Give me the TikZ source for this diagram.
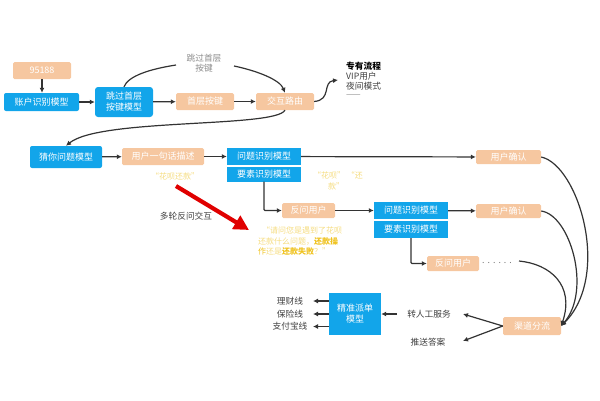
\documentclass[tikz,border=0pt]{standalone}
\usepackage{fontspec}
\setmainfont{Noto Sans CJK SC}
\usetikzlibrary{arrows.meta}
\definecolor{bluebox}{HTML}{12A5EA}
\definecolor{orangebox}{HTML}{F6C7A0}
\definecolor{conn}{HTML}{333333}
\definecolor{yel}{HTML}{F5DC80}
\definecolor{gold}{HTML}{EFC21E}
\tikzset{
  box/.style={minimum width=#1,inner sep=0pt,text=white,font=\fontsize{9}{11}\selectfont,align=center},
  bluen/.style={box=#1,fill=bluebox},
  oran/.style={box=#1,fill=orangebox,rounded corners=1.5pt},
  conl/.style={draw=conn,line width=1.2pt},
  conr/.style={conl,-{Latex[length=5pt,width=5pt]}},
  lbl/.style={inner sep=0pt,text=black!75,font=\fontsize{8.7}{10}\selectfont,align=center},
  yl/.style={inner sep=0pt,text=yel,font=\fontsize{8}{10.5}\selectfont,align=left}
}
\begin{document}
\begin{tikzpicture}[x=1pt,y=-1pt]
\useasboundingbox (0,0) rectangle (600,400);
% top row
\node[oran=58pt,minimum height=17pt] (n95) at (42,70.5) {95188};
\node[bluen=75pt,minimum height=18pt,rounded corners=2pt] (acc) at (41.5,102) {账户识别模型};
\node[bluen=58pt,minimum height=30pt,rounded corners=3pt] (skip) at (124,102) {跳过首层\\按键模型};
\node[oran=58pt,minimum height=17pt] (first) at (205,101.5) {首层按键};
\node[oran=58pt,minimum height=17pt] (route) at (285,101.5) {交互路由};
\node[lbl,text=black!45] (skiptxt) at (204,63) {跳过首层\\按键};
\node[inner sep=0pt,font=\fontsize{8.7}{10}\selectfont\bfseries,anchor=west] (prop) at (346,66) {专有流程};
\node[lbl,anchor=west] (vip) at (346,76) {VIP用户};
\node[lbl,anchor=west] (night) at (346,86) {夜间模式};
\node[lbl,anchor=west,text=black!45] (dash) at (346,96) {——};
\coordinate (pin) at (338,80);
\coordinate (t1) at (176,65);
\coordinate (t2) at (234,66);
\draw[conr] (n95) -- (n95 |- acc.north);
\draw[conr] (acc) -- (skip);
\draw[conr] (skip) -- (first);
\draw[conr] (first) -- (route);
\draw[conl] (skip.north) .. controls (128,76) and (150,69) .. (t1);
\draw[conr] (t2) .. controls (258,71) and (280,80) .. (route.north);
\draw[conr] (route.east) .. controls (332,100) and (322,82) .. (pin);
% second row
\node[bluen=72pt,minimum height=22pt,rounded corners=2pt] (guess) at (66,157) {猜你问题模型};
\node[oran=82pt,minimum height=17pt] (say) at (163,156.5) {用户一句话描述};
\node[bluen=74pt,minimum height=17pt] (q1) at (264,156.5) {问题识别模型};
\node[bluen=74pt,minimum height=15pt] (e1) at (264,174) {要素识别模型};
\node[oran=65pt,minimum height=14pt] (conf1) at (508.5,157) {用户确认};
\node[yl] (huabei) at (175,176) {“花呗还款”};
\node[yl,anchor=north west] (hb2) at (313,172) {“花呗” “还\\\hspace*{15pt}款”};
\draw[conr] (route.south) .. controls (275,128) and (100,118) .. (guess.north);
\draw[conr] (guess) -- (say);
\draw[conr] (say) -- (q1);
\draw[conr] (q1) -- (conf1);
% third row
\node[oran=53pt,minimum height=15pt] (ask1) at (308.5,210.5) {反问用户};
\node[bluen=74pt,minimum height=17pt] (q2) at (411,210.5) {问题识别模型};
\node[bluen=74pt,minimum height=17pt] (e2) at (411,229.5) {要素识别模型};
\node[oran=65pt,minimum height=14pt] (conf2) at (508.5,211) {用户确认};
\node[oran=52pt,minimum height=15pt] (ask2) at (453,263.5) {反问用户};
\node[lbl,text=black!55] (dots) at (497,263) {.\hspace{3pt}.\hspace{3pt}.\hspace{3pt}.\hspace{3pt}.\hspace{3pt}.};
\draw[conr,rounded corners=1pt] (e1.south) -- (e1.south |- ask1) -- (ask1);
\draw[conr] (ask1) -- (q2);
\draw[conr] (q2) -- (conf2);
\draw[conr,rounded corners=1pt] (e2.south) -- (e2.south |- ask2) -- (ask2);
% red arrow and texts
\coordinate (ra) at (176,186);
\coordinate (rb) at (249,230);
\draw[draw=red!88!black,line width=4.2pt,-{Triangle[length=15pt,width=15pt]}] (ra) -- (rb);
\node[lbl] (multi) at (186,216) {多轮反问交互};
\node[yl,anchor=north west] (ques) at (258,227) {\hspace*{4pt}“请问您是遇到了花呗\\还款什么问题，\textcolor{gold}{\bfseries 还款操}\\\textcolor{gold}{作}还是\textcolor{gold}{\bfseries 还款失败}？”};
% bottom
\node[oran=58pt,minimum height=18pt] (chan) at (532,326) {渠道分流};
\node[bluen=52pt,minimum height=42pt] (disp) at (355,314) {精准派单\\模型};
\node[lbl] (human) at (429,314) {转人工服务};
\node[lbl] (push) at (428,342) {推送答案};
\node[lbl] (l1) at (290,301) {理财线};
\node[lbl] (l2) at (290,314) {保险线};
\node[lbl] (l3) at (290,326.5) {支付宝线};
\coordinate (h1) at (463,314);
\coordinate (h2) at (463,341);
\coordinate (h3) at (397,314);
\coordinate (d1) at (519,261);
\coordinate (a1) at (313,301);
\coordinate (a2) at (313,314);
\coordinate (a3) at (313,326.5);
\draw[conr] (chan.west) -- (h1);
\draw[conr] (chan.west) -- (h2);
\draw[conr] (h3) -- (disp.east |- h3);
\draw[conr] (disp.west |- a1) -- (a1);
\draw[conr] (disp.west |- a2) -- (a2);
\draw[conr] (disp.west |- a3) -- (a3);
\draw[conr] (conf1.east) .. controls (578,165) and (612,275) .. (chan.east);
\draw[conr] (conf2.east) .. controls (570,215) and (592,290) .. (chan.east);
\draw[conr] (d1) .. controls (550,264) and (575,285) .. (chan.east);
\end{tikzpicture}
\end{document}
